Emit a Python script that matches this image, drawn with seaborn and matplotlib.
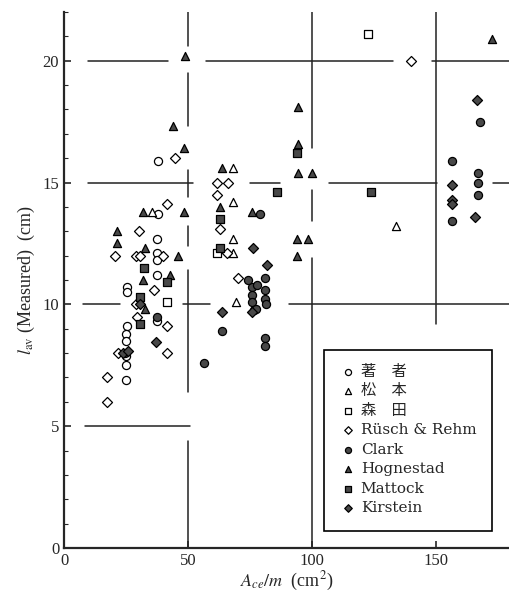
import pandas as pd
import numpy as np
import matplotlib
matplotlib.use('Agg')
import matplotlib.pyplot as plt
import seaborn as sns

# values
chosha_x = [37.9, 37.9, 37.5, 37.5, 37.5, 37.5, 25.4, 25.4, 25.4, 25.2, 25.2, 25.0, 25.0, 25.0, 37.5]
chosha_y = [15.9, 13.7, 12.7, 12.1, 11.8, 11.2, 10.7, 10.5, 9.1, 8.8, 8.5, 7.9, 7.5, 6.9, 9.3]

matsumoto_x = [35.5, 68.1, 68.1, 68.1, 68.1, 69.4, 134.0]
matsumoto_y = [13.8, 15.6, 14.2, 12.7, 12.1, 10.1, 13.2]

morita_x = [122.6, 41.5, 61.7]
morita_y = [21.1, 10.1, 12.1]

rusch_x = [44.8, 41.5, 30.2, 20.6, 29.0, 30.6, 40.0, 36.3, 29.0, 29.4, 41.5, 21.8, 41.5,
           17.3, 17.3, 61.7, 66.1, 61.7, 62.9, 65.7, 70.2, 140.0]
rusch_y = [16.0, 14.1, 13.0, 12.0, 12.0, 12.0, 12.0, 10.6, 10.0, 9.5, 9.1, 8.0, 8.0,
           7.0, 6.0, 15.0, 15.0, 14.5, 13.1, 12.1, 11.1, 20.0]

clark_x = [56.5, 81.0, 81.0, 81.0, 81.5, 76.0, 78.0, 76.0, 76.0, 76.5, 77.4, 63.7, 81.0, 81.0,
           74.2, 156.5, 156.5, 167.0, 167.0, 167.0, 167.7, 24.6, 37.5, 79.0]
clark_y = [7.6, 11.1, 10.6, 10.2, 10.0, 10.7, 10.8, 10.4, 10.1, 9.75, 9.8, 8.9, 8.6, 8.3,
           11.0, 15.9, 13.4, 15.4, 15.0, 14.5, 17.5, 8.0, 9.5, 13.7]

hognestad_x = [48.8, 44.0, 48.4, 21.4, 21.4, 31.9, 48.4, 32.7, 46.0, 31.9, 42.7, 32.7, 94.4, 94.4,
               94.4, 100.0, 94.0, 98.4, 94.0, 172.6, 63.7, 63.0, 76.0]
hognestad_y = [20.2, 17.3, 16.4, 13.0, 12.5, 13.8, 13.8, 12.3, 12.0, 11.0, 11.2, 9.8, 18.1, 16.6,
               15.4, 15.4, 12.7, 12.7, 12.0, 20.9, 15.6, 14.0, 13.8]

mattock_x = [94.0, 86.0, 124.0, 63.0, 32.3, 41.5, 30.6, 30.6, 63.0]
mattock_y = [16.2, 14.6, 14.6, 13.5, 11.5, 10.9, 10.3, 9.2, 12.3]

kirstein_x = [166.5, 156.5, 156.5, 156.5, 166.0, 76.2, 81.9, 75.8, 63.7, 37.1, 24.0, 26.0, 30.6]
kirstein_y = [18.4, 14.9, 14.3, 14.1, 13.6, 12.3, 11.6, 9.7, 9.7, 8.45, 8.0, 8.1, 10.0]

labels = ['著\u3000者', '松\u3000本', '森\u3000田', 'Rüsch & Rehm',
          'Clark', 'Hognestad', 'Mattock', 'Kirstein']

series = [
    (chosha_x, chosha_y, 'o', 'white'),
    (matsumoto_x, matsumoto_y, '^', 'white'),
    (morita_x, morita_y, 's', 'white'),
    (rusch_x, rusch_y, 'D', 'white'),
    (clark_x, clark_y, 'o', '#484848'),
    (hognestad_x, hognestad_y, '^', '#484848'),
    (mattock_x, mattock_y, 's', '#484848'),
    (kirstein_x, kirstein_y, 'D', '#484848'),
]

sns.set_style('ticks')
plt.rcParams['font.family'] = ['Liberation Serif', 'Noto Sans CJK JP']
plt.rcParams['mathtext.fontset'] = 'stix'

fig = plt.figure(figsize=(5.10, 6.03), dpi=100)
ax = fig.add_axes([0.1255, 0.0912, 0.8745, 0.889])

for (xs, ys, mk, fc), lab in zip(series, labels):
    d = pd.DataFrame({'x': xs, 'y': ys})
    sz = 34 if mk != 'D' else 26
    sns.scatterplot(data=d, x='x', y='y', marker=mk, s=sz, color=fc,
                    edgecolor='black', linewidth=0.9, ax=ax, label=lab, zorder=3)

# broken reference lines, as drawn in the original
hsegs = {20: [(9.7, 42), (57.5, 132.7), (148.4, 180)],
         15: [(9.7, 52), (75, 87), (107, 150.4), (173, 180)],
         10: [(7.7, 22.6), (48, 59), (91, 180)],
         5: [(8.5, 51)]}
vsegs = {50: [(20.6, 22), (17.3, 19.5), (14.4, 15.5), (12.4, 13.2), (6.4, 11.4), (0, 4.4)],
         100: [(16.4, 22), (13.4, 14.7), (0, 11.9)],
         150: [(9.2, 22)]}
for yv, segs in hsegs.items():
    for a, b in segs:
        ax.plot([a, b], [yv, yv], color='#222222', lw=1.1, zorder=1)
for xv, segs in vsegs.items():
    for a, b in segs:
        ax.plot([xv, xv], [a, b], color='#222222', lw=1.1, zorder=1)

ax.set_xlim(0, 180)
ax.set_ylim(0, 22)
ax.set_xticks([0, 50, 100, 150])
ax.set_yticks([0, 5, 10, 15, 20])
ax.set_yticks(np.arange(0, 23, 1), minor=True)
ax.tick_params(direction='in', labelsize=12, length=5, width=1.2)
ax.tick_params(which='minor', direction='in', length=3, width=0.8)
sns.despine(ax=ax)
for sp in ['left', 'bottom']:
    ax.spines[sp].set_linewidth(1.6)

ax.set_xlabel(r'$A_{ce}/m$  (cm$^2$)', fontsize=13, labelpad=1)
ax.set_ylabel(r'$l_{\rm av}$ (Measured)  (cm)', fontsize=13, labelpad=4)

leg = ax.legend(loc='lower left', bbox_to_anchor=(0.566, 0.018),
                prop={'family': ['DejaVu Serif', 'Noto Sans CJK JP'], 'size': 11},
                frameon=True, fancybox=False, edgecolor='black', framealpha=1,
                handletextpad=0.3, labelspacing=0.36, borderpad=1.0,
                handlelength=1.1, markerscale=0.75)
leg.get_frame().set_linewidth(1.2)

fig.savefig('out.png', dpi=100, facecolor='white')
